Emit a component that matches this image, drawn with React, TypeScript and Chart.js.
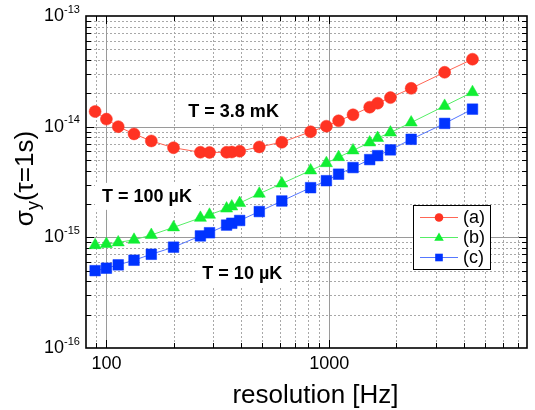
import { useEffect, useRef } from 'react';
import { Chart, registerables } from 'chart.js';

Chart.register(...registerables);

const FONT = '"Liberation Sans", Arial, Helvetica, sans-serif';

// resolution [Hz]
const frequencies = [89, 100, 113, 133, 159, 200, 264, 290, 346, 365, 396, 485, 612, 824, 970, 1100, 1277, 1517, 1646, 1879, 2328, 3289, 4385];
// sigma_y(tau = 1 s)
const sigmaA = [1.37e-14, 1.17e-14, 1.0e-14, 8.6e-15, 7.43e-15, 6.45e-15, 5.87e-15, 5.85e-15, 5.87e-15, 5.9e-15, 6.0e-15, 6.56e-15, 7.23e-15, 9.0e-15, 1.01e-14, 1.13e-14, 1.28e-14, 1.5e-14, 1.63e-14, 1.83e-14, 2.22e-14, 3.1e-14, 4.07e-14];
const sigmaB = [8.5e-16, 8.7e-16, 9.0e-16, 9.5e-16, 1.05e-15, 1.23e-15, 1.5e-15, 1.6e-15, 1.82e-15, 1.9e-15, 2.04e-15, 2.48e-15, 3.06e-15, 4.02e-15, 4.68e-15, 5.3e-15, 6.1e-15, 7.2e-15, 7.9e-15, 8.85e-15, 1.09e-14, 1.54e-14, 2.05e-14];
const sigmaC = [5.0e-16, 5.26e-16, 5.64e-16, 6.21e-16, 7.03e-16, 8.15e-16, 1.03e-15, 1.1e-15, 1.29e-15, 1.34e-15, 1.42e-15, 1.71e-15, 2.13e-15, 2.81e-15, 3.25e-15, 3.72e-15, 4.27e-15, 5.04e-15, 5.47e-15, 6.17e-15, 7.69e-15, 1.07e-14, 1.44e-14];

const seriesLabels = ['(a)', '(b)', '(c)'];
const markerColors = ['#ff3322', '#11ee33', '#0033ff'];
const lineColors = ['#ff6655', '#55ee66', '#5577ff'];
const markerStyles = ['circle', 'triangle', 'rect'];

const xTickValues = [100, 1000];
const yDecadeExponents = [-16, -15, -14, -13];
const xRange = [81, 7700];
const yRange = [1e-16, 1e-13];

const annotationTexts = ['T = 3.8 mK', 'T = 100 µK', 'T = 10 µK'];
const annotationX = [372, 152, 407];
const annotationY = [1.39e-14, 2.37e-15, 4.76e-16];

function drawMarker(ctx: CanvasRenderingContext2D, style: string, x: number, y: number, r: number) {
  ctx.beginPath();
  if (style === 'circle') {
    ctx.arc(x, y, r, 0, Math.PI * 2);
  } else if (style === 'triangle') {
    ctx.moveTo(x, y - r);
    ctx.lineTo(x + r * 0.866, y + r * 0.5);
    ctx.lineTo(x - r * 0.866, y + r * 0.5);
    ctx.closePath();
  } else {
    ctx.rect(x - r, y - r, 2 * r, 2 * r);
  }
  ctx.fill();
}

const decorPlugin = {
  id: 'decor',
  beforeDatasetsDraw(chart: any) {
    const { ctx, chartArea: a, scales } = chart;
    const xs = scales.x;
    const ys = scales.y;
    const xVals: [number, boolean][] = [];
    for (let e = 1; e <= 4; e++) {
      for (let m = 1; m <= 9; m++) {
        const v = m * Math.pow(10, e);
        if (v > xRange[0] && v < xRange[1]) xVals.push([v, m === 1]);
      }
    }
    const yVals: [number, boolean][] = [];
    for (let e = -16; e <= -14; e++) {
      for (let m = 1; m <= 9; m++) {
        const v = m * Math.pow(10, e);
        if (v > yRange[0] * 1.0001 && v < yRange[1] * 0.9999) yVals.push([v, m === 1]);
      }
    }
    ctx.save();
    // minor grid
    ctx.lineWidth = 1;
    ctx.strokeStyle = '#a8a8a8';
    ctx.setLineDash([2, 2]);
    ctx.beginPath();
    xVals.filter((d) => !d[1]).forEach(([v]) => {
      const px = Math.round(xs.getPixelForValue(v)) + 0.5;
      ctx.moveTo(px, a.top);
      ctx.lineTo(px, a.bottom);
    });
    yVals.filter((d) => !d[1]).forEach(([v]) => {
      const py = Math.round(ys.getPixelForValue(v)) + 0.5;
      ctx.moveTo(a.left, py);
      ctx.lineTo(a.right, py);
    });
    ctx.stroke();
    // major grid
    ctx.setLineDash([]);
    ctx.strokeStyle = '#9a9a9a';
    ctx.beginPath();
    xVals.filter((d) => d[1]).forEach(([v]) => {
      const px = Math.round(xs.getPixelForValue(v)) + 0.5;
      ctx.moveTo(px, a.top);
      ctx.lineTo(px, a.bottom);
    });
    yVals.filter((d) => d[1]).forEach(([v]) => {
      const py = Math.round(ys.getPixelForValue(v)) + 0.5;
      ctx.moveTo(a.left, py);
      ctx.lineTo(a.right, py);
    });
    ctx.stroke();
    // ticks on all four sides
    ctx.strokeStyle = '#000';
    ctx.lineWidth = 1;
    ctx.beginPath();
    xVals.forEach(([v, major]) => {
      const px = Math.round(xs.getPixelForValue(v)) + 0.5;
      const len = major ? 8 : 5;
      ctx.moveTo(px, a.bottom);
      ctx.lineTo(px, a.bottom - len);
      ctx.moveTo(px, a.top);
      ctx.lineTo(px, a.top + len);
    });
    yVals.forEach(([v, major]) => {
      const py = Math.round(ys.getPixelForValue(v)) + 0.5;
      const len = major ? 8 : 5;
      ctx.moveTo(a.left, py);
      ctx.lineTo(a.left + len, py);
      ctx.moveTo(a.right, py);
      ctx.lineTo(a.right - len, py);
    });
    ctx.stroke();
    // annotations with white background
    ctx.font = `bold 18px ${FONT}`;
    ctx.textAlign = 'center';
    ctx.textBaseline = 'middle';
    annotationTexts.forEach((t, i) => {
      const px = xs.getPixelForValue(annotationX[i]);
      const py = ys.getPixelForValue(annotationY[i]);
      const w = ctx.measureText(t).width;
      ctx.fillStyle = '#fff';
      ctx.fillRect(px - w / 2 - 7, py - 13, w + 14, 27);
      ctx.fillStyle = '#000';
      ctx.fillText(t, px, py + 1);
    });
    ctx.restore();
  },
  afterDraw(chart: any) {
    const { ctx, chartArea: a, scales } = chart;
    const ys = scales.y;
    ctx.save();
    // frame
    ctx.strokeStyle = '#000';
    ctx.lineWidth = 1.6;
    ctx.strokeRect(a.left, a.top, a.right - a.left, a.bottom - a.top);
    // exponents of y tick labels
    ctx.fillStyle = '#000';
    ctx.font = `11px ${FONT}`;
    ctx.textAlign = 'left';
    ctx.textBaseline = 'middle';
    yDecadeExponents.forEach((e) => {
      const py = ys.getPixelForValue(Math.pow(10, e));
      ctx.fillText(String(e), a.left - 22, py - 6.5);
    });
    // x axis title
    ctx.font = `26px ${FONT}`;
    ctx.textAlign = 'center';
    ctx.textBaseline = 'alphabetic';
    ctx.fillText('resolution [Hz]', (a.left + a.right) / 2 + 9, 403);
    // y axis title with subscript
    const mainFont = `26px ${FONT}`;
    const subFont = `18px ${FONT}`;
    ctx.font = mainFont;
    const wS = ctx.measureText('σ').width;
    const wR = ctx.measureText('(τ=1s)').width;
    ctx.font = subFont;
    const wY = ctx.measureText('y').width;
    const total = wS + wY + wR;
    const cy = (a.top + a.bottom) / 2 - 3.5;
    ctx.translate(33, cy + total / 2);
    ctx.rotate(-Math.PI / 2);
    ctx.textAlign = 'left';
    ctx.font = mainFont;
    ctx.fillText('σ', 0, 0);
    ctx.font = subFont;
    ctx.fillText('y', wS, 6);
    ctx.font = mainFont;
    ctx.fillText('(τ=1s)', wS + wY, 0);
    ctx.setTransform(1, 0, 0, 1, 0, 0);
    // legend
    const bx = a.right - 114;
    const by = a.top + 189;
    const bw = 77;
    const bh = 64;
    ctx.fillStyle = '#fff';
    ctx.fillRect(bx, by, bw, bh);
    ctx.strokeStyle = '#000';
    ctx.lineWidth = 1;
    ctx.strokeRect(bx + 0.5, by + 0.5, bw, bh);
    ctx.font = `18px ${FONT}`;
    ctx.textBaseline = 'middle';
    seriesLabels.forEach((lab, i) => {
      const ry = by + 12.5 + i * 20;
      ctx.strokeStyle = lineColors[i];
      ctx.lineWidth = 1;
      ctx.beginPath();
      ctx.moveTo(bx + 7, ry);
      ctx.lineTo(bx + 45, ry);
      ctx.stroke();
      ctx.fillStyle = markerColors[i];
      const r = markerStyles[i] === 'circle' ? 4.3 : markerStyles[i] === 'triangle' ? 5.5 : 3.8;
      drawMarker(ctx, markerStyles[i], bx + 26, markerStyles[i] === 'triangle' ? ry + 0.5 : ry, r);
      ctx.fillStyle = '#000';
      ctx.fillText(lab, bx + 50, ry + 1);
    });
    ctx.restore();
  },
};

export default function App() {
  const canvasRef = useRef<HTMLCanvasElement | null>(null);
  useEffect(() => {
    if (!canvasRef.current) return;
    const seriesValues = [sigmaA, sigmaB, sigmaC];
    const chart = new Chart(canvasRef.current, {
      type: 'line',
      data: {
        datasets: seriesValues.map((vals, i) => ({
          label: seriesLabels[i],
          data: frequencies.map((f, j) => ({ x: f, y: vals[j] })),
          borderColor: lineColors[i],
          borderWidth: 1,
          backgroundColor: markerColors[i],
          pointBackgroundColor: markerColors[i],
          pointBorderColor: markerColors[i],
          pointBorderWidth: 0.5,
          pointStyle: markerStyles[i] as any,
          pointRadius: i === 0 ? 6 : i === 1 ? 7 : 7.5,
          fill: false,
          tension: 0,
        })),
      },
      options: {
        responsive: false,
        animation: false,
        layout: { padding: { top: 16, right: 1, left: 0, bottom: 0 } },
        plugins: {
          legend: { display: false },
          tooltip: { enabled: false },
        },
        scales: {
          x: {
            type: 'logarithmic',
            min: xRange[0],
            max: xRange[1],
            grid: { display: false, drawTicks: false },
            border: { display: false },
            afterBuildTicks: (s: any) => {
              s.ticks = xTickValues.map((v) => ({ value: v }));
            },
            afterFit: (s: any) => {
              s.height = 62;
              s.paddingLeft = 0;
              s.paddingRight = 0;
            },
            ticks: {
              autoSkip: false,
              maxRotation: 0,
              padding: 5,
              color: '#000',
              font: { family: FONT, size: 18 },
              callback: (v: any) => String(v),
            },
          },
          y: {
            type: 'logarithmic',
            min: yRange[0],
            max: yRange[1],
            grid: { display: false, drawTicks: false },
            border: { display: false },
            afterBuildTicks: (s: any) => {
              s.ticks = yDecadeExponents.map((e) => ({ value: Math.pow(10, e) }));
            },
            afterFit: (s: any) => {
              s.width = 86;
              s.paddingTop = 0;
              s.paddingBottom = 0;
            },
            ticks: {
              autoSkip: false,
              padding: 22,
              color: '#000',
              font: { family: FONT, size: 18 },
              callback: () => '10',
            },
          },
        },
      },
      plugins: [decorPlugin],
    });
    return () => chart.destroy();
  }, []);
  return (
    <div style={{ position: 'fixed', left: 0, top: 0, width: 535, height: 410, background: '#fff' }}>
      <canvas ref={canvasRef} width={535} height={410} style={{ display: 'block' }} />
    </div>
  );
}
